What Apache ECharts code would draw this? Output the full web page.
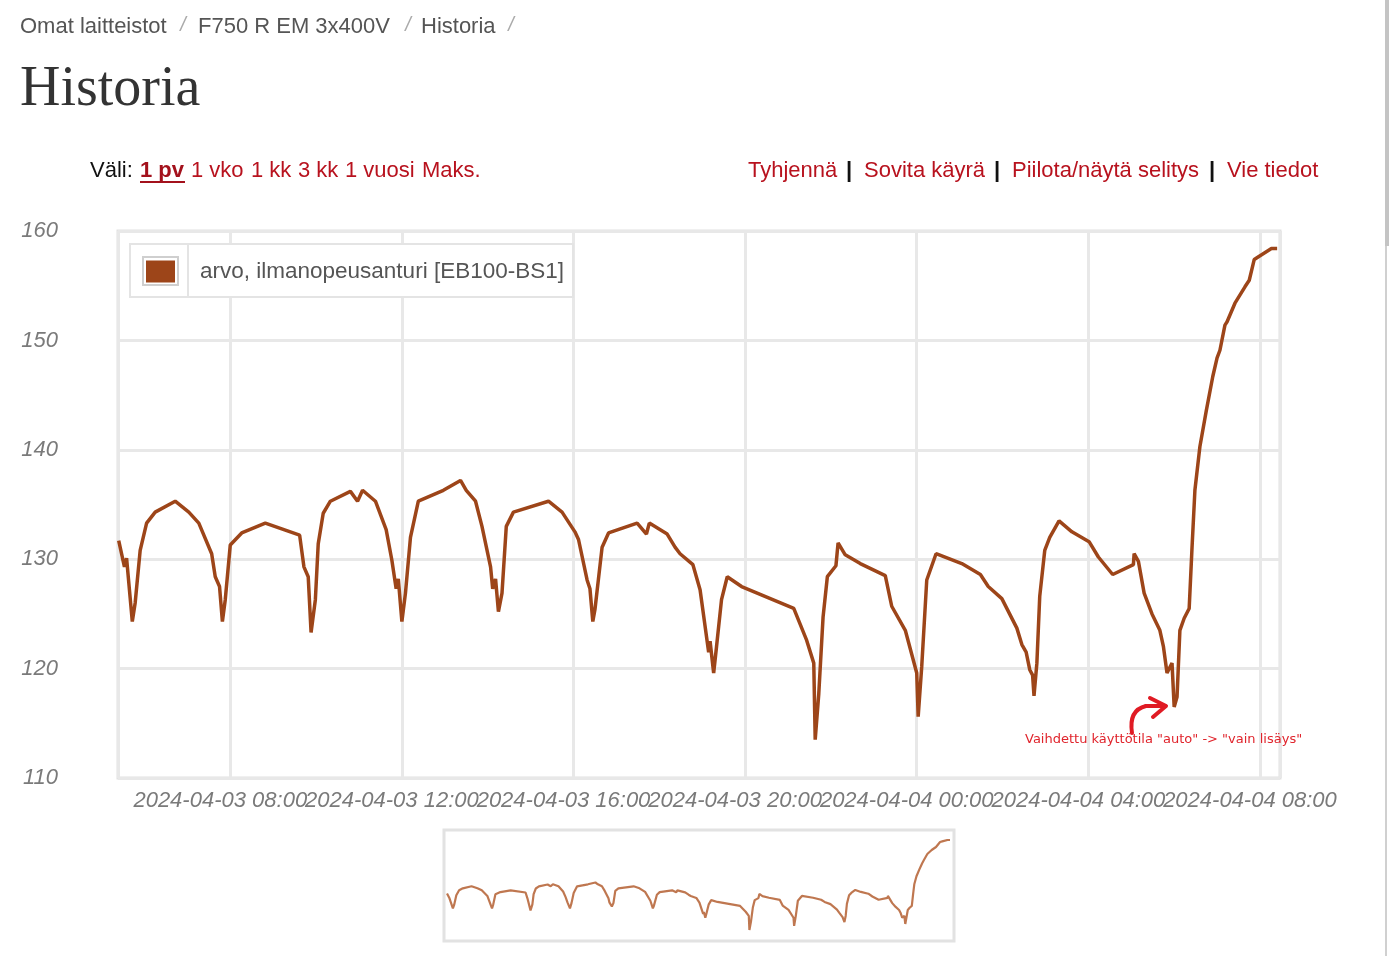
<!DOCTYPE html>
<html><head><meta charset="utf-8">
<script src="https://cdn.jsdelivr.net/npm/echarts@6/dist/echarts.min.js"></script>
<style>html,body{margin:0;padding:0;background:#fff;overflow:hidden}#c{width:1390px;height:956px}</style>
</head><body><div id="c"></div>
<script>
// ---------- data ----------
const seriesName = 'arvo, ilmanopeusanturi [EB100-BS1]';
const times = [
'2024-04-03 05:24','2024-04-03 05:32','2024-04-03 05:35','2024-04-03 05:43','2024-04-03 05:47','2024-04-03 05:54',
'2024-04-03 06:03','2024-04-03 06:15','2024-04-03 06:43','2024-04-03 07:02','2024-04-03 07:16','2024-04-03 07:34',
'2024-04-03 07:39','2024-04-03 07:45','2024-04-03 07:49','2024-04-03 07:53','2024-04-03 08:00','2024-04-03 08:16',
'2024-04-03 08:49','2024-04-03 09:37','2024-04-03 09:43','2024-04-03 09:49','2024-04-03 09:53','2024-04-03 09:59',
'2024-04-03 10:03','2024-04-03 10:10','2024-04-03 10:20','2024-04-03 10:48','2024-04-03 10:58','2024-04-03 11:05',
'2024-04-03 11:23','2024-04-03 11:38','2024-04-03 11:46','2024-04-03 11:52','2024-04-03 11:55','2024-04-03 12:00',
'2024-04-03 12:05','2024-04-03 12:12','2024-04-03 12:23','2024-04-03 12:58','2024-04-03 13:22','2024-04-03 13:30',
'2024-04-03 13:43','2024-04-03 13:52','2024-04-03 14:04','2024-04-03 14:07','2024-04-03 14:11','2024-04-03 14:15',
'2024-04-03 14:20','2024-04-03 14:26','2024-04-03 14:36','2024-04-03 15:25','2024-04-03 15:44','2024-04-03 16:02',
'2024-04-03 16:07','2024-04-03 16:19','2024-04-03 16:23','2024-04-03 16:27','2024-04-03 16:30','2024-04-03 16:40',
'2024-04-03 16:49','2024-04-03 17:29','2024-04-03 17:42','2024-04-03 17:46','2024-04-03 18:11','2024-04-03 18:22',
'2024-04-03 18:29','2024-04-03 18:47','2024-04-03 18:57','2024-04-03 19:09','2024-04-03 19:11','2024-04-03 19:16',
'2024-04-03 19:20','2024-04-03 19:27','2024-04-03 19:35','2024-04-03 19:55','2024-04-03 21:08','2024-04-03 21:26',
'2024-04-03 21:36','2024-04-03 21:38','2024-04-03 21:43','2024-04-03 21:49','2024-04-03 21:55','2024-04-03 22:07',
'2024-04-03 22:10','2024-04-03 22:20','2024-04-03 22:41','2024-04-03 23:16','2024-04-03 23:25','2024-04-03 23:44',
'2024-04-04 00:00','2024-04-04 00:02','2024-04-04 00:07','2024-04-04 00:14','2024-04-04 00:27','2024-04-04 01:03',
'2024-04-04 01:29','2024-04-04 01:40','2024-04-04 01:59','2024-04-04 02:20','2024-04-04 02:27','2024-04-04 02:33',
'2024-04-04 02:38','2024-04-04 02:42','2024-04-04 02:44','2024-04-04 02:48','2024-04-04 02:52','2024-04-04 02:59',
'2024-04-04 03:06','2024-04-04 03:19','2024-04-04 03:37','2024-04-04 04:01','2024-04-04 04:14','2024-04-04 04:34',
'2024-04-04 05:03','2024-04-04 05:04','2024-04-04 05:10','2024-04-04 05:18','2024-04-04 05:29','2024-04-04 05:40',
'2024-04-04 05:45','2024-04-04 05:50','2024-04-04 05:57','2024-04-04 06:00','2024-04-04 06:04','2024-04-04 06:08',
'2024-04-04 06:14','2024-04-04 06:21','2024-04-04 06:25','2024-04-04 06:29','2024-04-04 06:36','2024-04-04 06:45',
'2024-04-04 06:54','2024-04-04 07:00','2024-04-04 07:04','2024-04-04 07:11','2024-04-04 07:14','2024-04-04 07:25',
'2024-04-04 07:39','2024-04-04 07:45','2024-04-04 07:52','2024-04-04 07:59','2024-04-04 08:16','2024-04-04 08:24'
];
const values = [
131.7,129.3,130.1,124.3,126.0,130.8,
133.3,134.3,135.3,134.3,133.3,130.5,
128.4,127.5,124.3,126.3,131.3,132.4,
133.3,132.2,129.3,128.4,123.3,126.3,
131.4,134.2,135.3,136.2,135.3,136.3,
135.3,132.7,129.9,127.3,128.2,124.3,
126.9,132.0,135.3,136.3,137.2,136.3,
135.3,133.0,129.3,127.3,128.2,125.2,
126.9,133.0,134.3,135.3,134.3,132.5,
131.8,128.1,127.3,124.3,125.4,131.1,
132.4,133.3,132.3,133.3,132.3,131.1,
130.5,129.5,127.2,121.5,122.5,119.6,
122.0,126.3,128.4,127.5,125.5,122.6,
120.5,113.5,117.7,124.7,128.4,129.4,
131.5,130.4,129.6,128.5,125.7,123.5,
119.6,115.6,120.2,128.1,130.5,129.6,
128.6,127.5,126.4,123.7,122.2,121.5,
119.9,119.4,117.5,120.5,126.6,130.8,
132.0,133.5,132.5,131.6,130.2,128.6,
129.5,130.5,129.8,126.9,125.0,123.5,
122.0,119.6,120.5,116.5,117.4,123.5,
124.6,125.5,131.1,136.3,140.3,143.6,
146.7,148.4,149.1,151.4,151.7,153.4,
154.9,155.5,157.4,157.7,158.4,158.4
];
const yMin = 110, yMax = 160, yStep = 10;
const xRange = ['2024-04-03 05:23', '2024-04-04 08:28'];
const xTickHours = 4;   // label every 4 hours
const breadcrumbs = ['Omat laitteistot', 'F750 R EM 3x400V', 'Historia'];
const pageTitle = 'Historia';
const rangeLabel = 'Väli:';
const rangeLinks = ['1 pv', '1 vko', '1 kk', '3 kk', '1 vuosi', 'Maks.'];
const actionLinks = ['Tyhjennä', 'Sovita käyrä', 'Piilota/näytä selitys', 'Vie tiedot'];
const annotationText = 'Vaihdettu käyttötila "auto" -> "vain lisäys"';

// ---------- helpers ----------
function toTs(s) {
  const [d, t] = s.split(' ');
  const [Y, M, D] = d.split('-').map(Number);
  const [h, m] = t.split(':').map(Number);
  return new Date(Y, M - 1, D, h, m).getTime();
}
function pad(n) { return (n < 10 ? '0' : '') + n; }
function fmt(v) {
  const d = new Date(v);
  if (d.getMinutes() !== 0 || d.getHours() % xTickHours !== 0) return '';
  return d.getFullYear() + '-' + pad(d.getMonth() + 1) + '-' + pad(d.getDate()) + ' ' + pad(d.getHours()) + ':' + pad(d.getMinutes());
}
const data = times.map((t, i) => [toTs(t), values[i]]);

const SANS = '"Liberation Sans", Arial, sans-serif';
const LINE = '#9d4519';
const RED = '#b8121e';
const ARROW = '#e01b24';

// ---------- page decorations ----------
const g = [];
const bcX = [20, 198, 421];
const slashX = [183, 408, 511];
breadcrumbs.forEach((b, i) => {
  g.push({ type: 'text', x: bcX[i], y: 27, style: { text: b, font: '22px ' + SANS, fill: '#555', verticalAlign: 'middle', textVerticalAlign: 'middle' } });
});
slashX.forEach(x => {
  g.push({ type: 'text', x: x, y: 25, style: { text: '/', font: 'italic 20px ' + SANS, fill: '#aaa', align: 'center', textAlign: 'center', verticalAlign: 'middle', textVerticalAlign: 'middle' } });
});
g.push({ type: 'text', x: 20, y: 90, style: { text: pageTitle, font: '56px "Liberation Serif", "Times New Roman", serif', fill: '#333', verticalAlign: 'middle', textVerticalAlign: 'middle' } });
g.push({ type: 'text', x: 90, y: 171, style: { text: rangeLabel, font: '22px ' + SANS, fill: '#111', verticalAlign: 'middle', textVerticalAlign: 'middle' } });
const rlX = [140, 191, 251, 298, 345, 422];
rangeLinks.forEach((t, i) => {
  g.push({ type: 'text', x: rlX[i], y: 171, style: { text: t, font: (i === 0 ? 'bold ' : '') + '22px ' + SANS, fill: i === 0 ? '#a3111c' : RED, verticalAlign: 'middle', textVerticalAlign: 'middle' } });
});
g.push({ type: 'line', shape: { x1: 140, y1: 182, x2: 185, y2: 182 }, style: { stroke: '#a3111c', lineWidth: 2 } });
const alX = [748, 864, 1012, 1227];
const barX = [846, 994, 1209];
actionLinks.forEach((t, i) => {
  g.push({ type: 'text', x: alX[i], y: 171, style: { text: t, font: '22px ' + SANS, fill: RED, verticalAlign: 'middle', textVerticalAlign: 'middle' } });
});
barX.forEach(x => {
  g.push({ type: 'text', x: x, y: 171, style: { text: '|', font: 'bold 22px ' + SANS, fill: '#111', verticalAlign: 'middle', textVerticalAlign: 'middle' } });
});
g.push({ type: 'rect', z: 3, shape: { x: 130, y: 244, width: 443, height: 53 }, style: { fill: '#fff', stroke: '#e4e4e4', lineWidth: 2 } });
g.push({ type: 'line', z: 3, shape: { x1: 188, y1: 244, x2: 188, y2: 297 }, style: { stroke: '#e4e4e4', lineWidth: 2 } });
g.push({ type: 'rect', z: 3, shape: { x: 143, y: 257, width: 35, height: 28 }, style: { fill: '#fff', stroke: '#cfcfcf', lineWidth: 2 } });
// hand-drawn style arrow
g.push({ type: 'bezierCurve', z: 10, shape: { x1: 1132, y1: 733, cpx1: 1130, cpy1: 720, cpx2: 1133, cpy2: 709, x2: 1146, y2: 706 }, style: { fill: null, stroke: ARROW, lineWidth: 4, lineCap: 'round' } });
g.push({ type: 'line', z: 10, shape: { x1: 1146, y1: 706, x2: 1165, y2: 706 }, style: { stroke: ARROW, lineWidth: 4, lineCap: 'round' } });
g.push({ type: 'polyline', z: 10, shape: { points: [[1150, 698], [1166, 706], [1153, 717]] }, style: { fill: null, stroke: ARROW, lineWidth: 4, lineCap: 'round', lineJoin: 'round' } });
g.push({ type: 'text', z: 10, x: 1025, y: 740, style: { text: annotationText, font: '13px "DejaVu Sans", sans-serif', fill: '#e0242c', verticalAlign: 'middle', textVerticalAlign: 'middle' } });
g.push({ type: 'rect', shape: { x: 444, y: 830, width: 510, height: 111 }, style: { fill: null, stroke: '#e2e2e2', lineWidth: 3 } });
g.push({ type: 'rect', shape: { x: 1385, y: 0, width: 2, height: 956 }, style: { fill: '#d0d0d0' } });
g.push({ type: 'rect', shape: { x: 1385, y: 0, width: 4, height: 246 }, style: { fill: '#c4c4c4' } });

const chart = echarts.init(document.getElementById('c'), null, { renderer: 'canvas' });
chart.setOption({
  animation: false,
  backgroundColor: '#fff',
  graphic: g,
  legend: {
    data: [seriesName],
    left: 146, top: 260,
    icon: 'rect', itemWidth: 29, itemHeight: 22,
    padding: 0,
    selectedMode: false,
    textStyle: { fontFamily: SANS, fontSize: 22.5, color: '#555', padding: [0, 0, 0, 20] },
    z: 5
  },
  grid: [
    { left: 118, top: 231, width: 1162, height: 547, show: true, borderColor: '#e2e2e2', borderWidth: 3, backgroundColor: 'transparent' },
    { left: 447, top: 840, width: 503, height: 90, show: false }
  ],
  xAxis: [
    {
      type: 'time', gridIndex: 0,
      min: toTs(xRange[0]), max: toTs(xRange[1]),
      splitNumber: 6,
      axisLine: { show: false },
      axisTick: { show: false },
      axisLabel: {
        formatter: v => fmt(v), hideOverlap: false, showMinLabel: false, showMaxLabel: false,
        fontFamily: SANS, fontSize: 22, fontStyle: 'italic', fontWeight: 'normal', color: '#7a7a7a', margin: 12,
        padding: [0, 20, 0, 0]
      },
      splitLine: { show: true, lineStyle: { color: '#e8e8e8', width: 3 } }
    },
    {
      type: 'value', gridIndex: 1, min: 'dataMin', max: 'dataMax',
      axisLine: { show: false }, axisTick: { show: false }, axisLabel: { show: false }, splitLine: { show: false }
    }
  ],
  yAxis: [
    {
      type: 'value', gridIndex: 0, min: yMin, max: yMax, interval: yStep,
      axisLine: { show: false }, axisTick: { show: false },
      axisLabel: { fontFamily: SANS, fontSize: 22, fontStyle: 'italic', color: '#7a7a7a', margin: 60 },
      splitLine: { show: true, lineStyle: { color: '#e8e8e8', width: 3 } }
    },
    {
      type: 'value', gridIndex: 1, min: 'dataMin', max: 'dataMax', scale: true,
      axisLine: { show: false }, axisTick: { show: false }, axisLabel: { show: false }, splitLine: { show: false }
    }
  ],
  series: [
    {
      name: seriesName, type: 'line', xAxisIndex: 0, yAxisIndex: 0, data: data,
      showSymbol: false, symbol: 'none', color: LINE,
      lineStyle: { color: LINE, width: 3.5 },
      itemStyle: { color: LINE }, z: 2
    },
    {
      name: 'overview', type: 'line', xAxisIndex: 1, yAxisIndex: 1, data: data,
      showSymbol: false, symbol: 'none', color: '#b8683d',
      lineStyle: { color: '#b8683d', width: 2.2, opacity: 0.9 }
    }
  ]
});
</script>
</body></html>
